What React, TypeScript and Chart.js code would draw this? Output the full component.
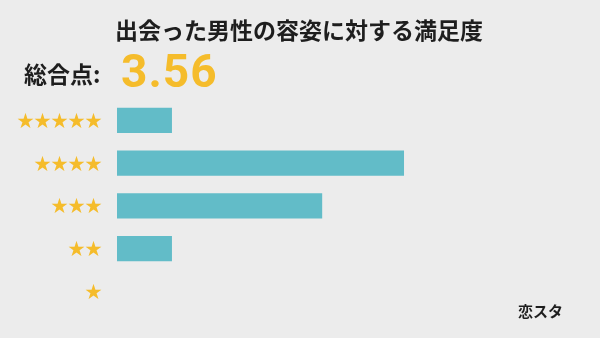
import React, { useEffect, useRef } from "react";
import { Chart, registerables } from "chart.js";

Chart.register(...registerables);

// Rating categories (top to bottom) and response shares in percent
const ratingLabels = ["★★★★★", "★★★★", "★★★", "★★", "★"];
const shares = [9, 47, 33.6, 9, 0];
const titleText = "出会った男性の容姿に対する満足度";
const scoreLabel = "総合点:";
const scoreValue = "3.56";
const sourceText = "恋スタ";

const CJK = '"Noto Sans CJK JP", "Noto Sans", sans-serif';
const STAR_YELLOW = "#F5BC2B";

const textPlugin = {
  id: "headerText",
  afterDraw(chart: Chart) {
    const ctx = chart.ctx as any;
    ctx.save();
    ctx.textBaseline = "middle";
    ctx.fillStyle = "#1e1e1e";
    ctx.font = `bold 23px ${CJK}`;
    ctx.textAlign = "center";
    ctx.fillText(titleText, 299, 30);

    ctx.textAlign = "left";
    ctx.fillText(scoreLabel, 24, 74);

    ctx.fillStyle = STAR_YELLOW;
    ctx.font = `bold 46px Roboto, "Noto Sans", sans-serif`;
    ctx.letterSpacing = "1px";
    ctx.fillText(scoreValue, 121, 75);
    ctx.letterSpacing = "0px";

    ctx.fillStyle = "#1e1e1e";
    ctx.font = `bold 15px ${CJK}`;
    ctx.fillText(sourceText, 518, 311);
    ctx.restore();
  },
};

export default function App() {
  const canvasRef = useRef<HTMLCanvasElement | null>(null);

  useEffect(() => {
    const canvas = canvasRef.current;
    if (!canvas) return;
    const chart = new Chart(canvas, {
      type: "bar",
      data: {
        labels: ratingLabels,
        datasets: [
          {
            data: shares,
            backgroundColor: "#62BCC8",
            borderWidth: 0,
            barPercentage: 0.8,
            categoryPercentage: 0.74,
          },
        ],
      },
      options: {
        indexAxis: "y",
        animation: false,
        responsive: false,
        maintainAspectRatio: false,
        layout: { padding: { left: 0, right: 25, top: 99, bottom: 19 } },
        plugins: {
          legend: { display: false },
          tooltip: { enabled: false },
        },
        scales: {
          x: {
            display: false,
            min: 0,
            max: 75,
          },
          y: {
            border: { display: false },
            grid: { display: false, drawTicks: false },
            ticks: {
              color: STAR_YELLOW,
              padding: 15,
              font: { family: CJK, size: 17 },
            },
            afterFit(scale: any) {
              scale.width = 117;
            },
          },
        },
      },
      plugins: [textPlugin],
    });
    return () => chart.destroy();
  }, []);

  return (
    <div style={{ position: "fixed", left: 0, top: 0, width: 600, height: 338, background: "#ECECEC" }}>
      <canvas ref={canvasRef} width={600} height={338} style={{ display: "block" }} />
    </div>
  );
}
